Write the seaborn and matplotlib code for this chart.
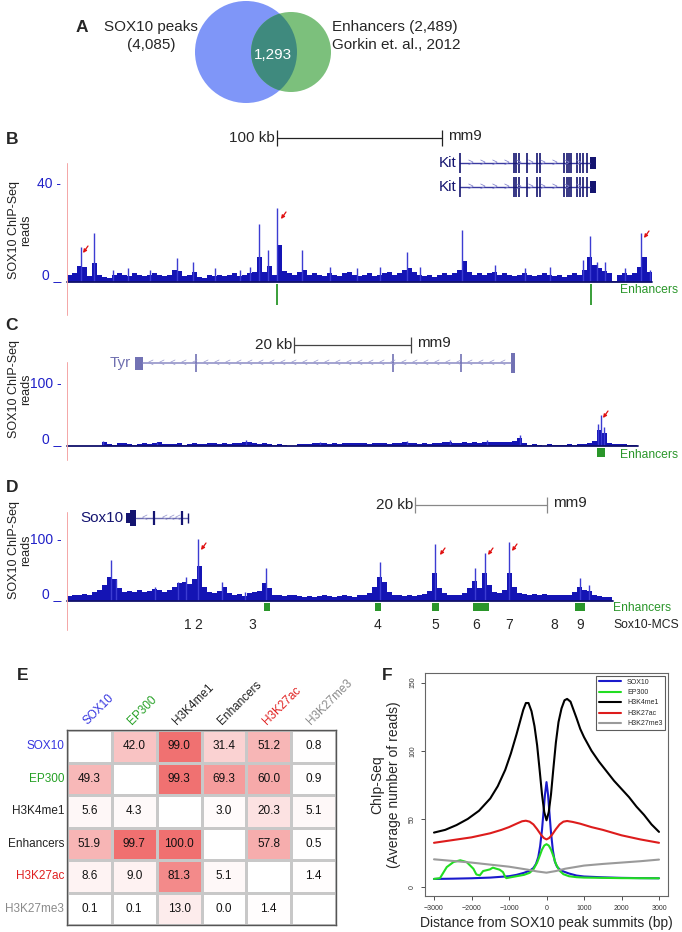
import numpy as np
import pandas as pd
import matplotlib
matplotlib.use('Agg')
import matplotlib.pyplot as plt
import seaborn as sns
from matplotlib.patches import Circle, Rectangle
from matplotlib.colors import LinearSegmentedColormap

# ---------------- data ----------------
# A: venn counts
venn_sox10 = 4085
venn_enh = 2489
venn_both = 1293

# B: Kit locus, SOX10 coverage (reads), 5px bins from track start
b_body = [3, 3.5, 6.5, 6, 2.5, 7.5, 3, 2, 1.5, 3, 3.5, 3, 2.5, 3.5, 3, 2.5, 3, 3.5, 3, 2.5,
          3, 5, 4.5, 2.5, 3, 4, 2, 1.5, 3, 2.5, 3, 2.5, 3, 3.5, 2.5, 3, 3.5, 4, 10, 4,
          6.5, 3, 15, 4.5, 3.5, 3, 4, 5, 3, 3.5, 3, 2.5, 3.5, 3, 2.5, 3.5, 4, 3, 2.5, 3,
          3.5, 2.5, 3, 3.5, 4, 3, 3.5, 5, 5.5, 4, 3, 2.5, 3, 2, 3, 3.5, 3, 3.5, 5, 8.5,
          4, 3, 3.5, 3, 3.5, 4, 3, 3.5, 3, 2.5, 3, 3.5, 3, 2.5, 3, 3.5, 3, 2.5, 3, 2,
          3, 3.5, 3, 5, 10, 7, 5.5, 4.5, 3.5, 0.5, 3, 3.5, 3, 3.5, 6, 10, 4]
b_spike_x = [81, 94, 113, 128, 150, 177, 193, 215, 240, 250, 259, 268, 277, 302, 330, 357,
             380, 407, 420, 462, 495, 525, 550, 583, 590, 597, 605, 625, 641, 650]
b_spike_h = [14, 20, 5, 5.5, 5, 9.5, 8, 5.5, 5, 6, 23.5, 13, 30, 13, 6, 5.5,
             6, 12, 6, 21, 7, 5.5, 6, 9, 18.5, 8, 8, 5.5, 20, 5]
b_enhancers = [277, 591]
b_arrows = [(83, 253), (281, 219), (644, 238)]
kit_exons = [514, 516, 519, 527, 537, 540, 564, 567, 569, 571, 577, 580, 583, 587]

# C: Tyr locus
c_body = [0, 0, 0, 0, 0, 0, 0.5, 7, 3, 2, 4.5, 5.5, 3, 2, 3.5, 4, 3, 4, 6, 3,
          2.5, 3.5, 4, 2, 3, 4, 3.5, 2.5, 4, 5, 3, 4, 3.5, 4.5, 5, 7, 6, 4, 3.5, 5,
          3, 2, 3, 1, 0.5, 0.5, 2.5, 3, 3.5, 4, 5.5, 4, 3, 4, 3.5, 4, 5, 4.5, 5.5, 4,
          3.5, 4.5, 5, 4, 3.5, 4, 5, 6, 5.5, 4, 3, 4, 3.5, 4.5, 5, 6, 6.5, 5, 4.5, 6,
          5.5, 6, 5, 6.5, 7, 6, 7, 6.5, 7, 8, 12, 5, 2, 3, 1.5, 0.5, 2.5, 1, 2, 1.5,
          3, 2, 3.5, 3, 4, 8, 26, 20, 4, 3, 2.5, 3, 2, 1.5]
c_spike_x = [103, 157, 246, 320, 407, 450, 487, 520, 598, 601, 604]
c_spike_h = [8, 7, 9, 7, 8, 9, 9, 18, 35, 50, 30]
c_enhancers = [(597, 605)]
c_arrows = [(603, 418)]
tyr_exons = [196, 393, 461]

# D: Sox10 locus
d_body = [8, 10, 9, 11, 10, 14, 18, 25, 38, 35, 20, 14, 16, 15, 17, 14, 16, 19, 18, 15,
          17, 22, 28, 30, 27, 35, 55, 22, 14, 12, 16, 22, 12, 9, 11, 8, 12, 14, 16, 28,
          20, 10, 9, 8, 10, 9, 8, 7, 8, 7, 8, 9, 8, 7, 8, 9, 8, 7, 9, 10,
          13, 22, 38, 30, 14, 10, 9, 8, 9, 8, 9, 11, 16, 45, 20, 12, 10, 9, 10, 12,
          20, 32, 20, 45, 25, 14, 13, 18, 45, 22, 12, 11, 10, 11, 10, 11, 10, 9, 10, 9,
          10, 14, 22, 18, 16, 10, 8, 7, 6]
d_spike_x = [111, 116, 155, 178, 186, 198, 222, 245, 266, 380, 435, 475, 485, 509, 580, 589]
d_spike_h = [65, 35, 22, 30, 38, 98, 30, 15, 52, 62, 90, 52, 76, 93, 36, 25]
d_enhancers = [(264, 270), (375, 381), (432, 439), (473, 489), (575, 585)]
d_arrows = [(201, 550), (440, 555), (488, 555), (512, 551)]
mcs_labels = ['1', '2', '3', '4', '5', '6', '7', '8', '9']
mcs_pos = [188, 198, 252, 378, 435, 476, 509, 554, 580]
sox10_exons = [154, 182]

# E: overlap percentages
marks = ['SOX10', 'EP300', 'H3K4me1', 'Enhancers', 'H3K27ac', 'H3K27me3']
mark_colors = ['#3535e0', '#25a025', '#222222', '#222222', '#e02020', '#8a8a8a']
overlap = [[np.nan, 42.0, 99.0, 31.4, 51.2, 0.8],
           [49.3, np.nan, 99.3, 69.3, 60.0, 0.9],
           [5.6, 4.3, np.nan, 3.0, 20.3, 5.1],
           [51.9, 99.7, 100.0, np.nan, 57.8, 0.5],
           [8.6, 9.0, 81.3, 5.1, np.nan, 1.4],
           [0.1, 0.1, 13.0, 0.0, 1.4, np.nan]]

# F: average profiles around SOX10 summits
sox10_x = [-3000, -2500, -2000, -1500, -1000, -800, -600, -450, -350, -280, -220, -170, -120, -80, -40, 0,
           40, 80, 120, 170, 220, 280, 350, 450, 600, 800, 1000, 1500, 2000, 2500, 3000]
sox10_y = [6, 6.2, 6.5, 7, 8, 9, 10.5, 12, 14, 17, 22, 30, 42, 55, 68, 77,
           68, 54, 40, 27, 19, 15, 13, 11.5, 10, 8.5, 7.8, 7.2, 6.8, 6.6, 6.5]
ep300_x = [-3000, -2840, -2660, -2480, -2300, -2130, -1950, -1870, -1780, -1690, -1510, -1430, -1340,
           -1250, -1160, -1100, -1070, -900, -600, -450, -350, -250, -180, -120, -60, 0,
           60, 120, 180, 250, 350, 450, 600, 800, 1000, 2000, 3000]
ep300_y = [6, 6.6, 14.7, 18.4, 19.7, 18.4, 13.5, 9.3, 8.6, 11.8, 13, 14.3, 13.5,
           12.8, 11, 7.4, 6.6, 7.5, 9, 10.5, 13, 18, 23, 27.5, 30.5, 31.5,
           30.5, 27.5, 23, 17, 12, 9.5, 8, 7.3, 7, 6.6, 6.5]
h3k4_x = [-3000, -2700, -2400, -2100, -1800, -1500, -1300, -1100, -950, -800, -700, -620, -550, -480,
          -400, -320, -250, -180, -120, -60, 0, 60, 120, 180, 250, 320, 400, 480, 550, 640,
          720, 800, 900, 1000, 1200, 1400, 1600, 1800, 2000, 2200, 2400, 2600, 2800, 3000]
h3k4_y = [40, 42, 45.5, 50, 56, 65, 74, 86, 98, 112, 122, 130, 135, 135,
          129, 118, 104, 85, 68, 55, 49, 55, 68, 86, 106, 121, 131, 137, 138, 136,
          130, 124, 116, 110, 100, 92, 85, 78, 72, 66, 59, 53, 46, 40.5]
h3k27ac_x = [-3000, -2500, -2000, -1500, -1200, -1000, -800, -650, -550, -450, -350, -250, -150, -70, 0,
             70, 150, 250, 350, 450, 550, 700, 900, 1200, 1500, 2000, 2500, 3000]
h3k27ac_y = [32.5, 34.5, 36.5, 39.5, 42, 44, 46.5, 48.3, 48.7, 48, 46, 42.5, 38.5, 36, 35,
             36, 38.5, 42.5, 46, 48, 48.5, 47.8, 46.5, 44, 42, 38, 35, 32.5]
h3k27me3_x = [-3000, -2000, -1000, -500, -250, 0, 250, 500, 1000, 1500, 2000, 2500, 3000]
h3k27me3_y = [20.4, 18, 15, 12.8, 11.5, 10.6, 11.8, 13.5, 15.8, 17, 18, 19, 20.2]

# ---------------- figure ----------------
sns.set_style('white')
plt.rcParams['font.family'] = ['Liberation Sans', 'DejaVu Sans']

W, H = 682, 932
fig = plt.figure(figsize=(W / 100, H / 100), dpi=100)


def px_axes(x0, y0, x1, y1):
    return fig.add_axes([x0 / W, 1 - y1 / H, (x1 - x0) / W, (y1 - y0) / H])


TRACK_BLUE = '#1414b4'
SPIKE_BLUE = '#3c3cd2'
NAVY = '#141470'
GREEN = '#2a962a'
BIN = 5


def draw_track(x0, x1, y_base, y_top, px_per_read, body, sx, sh, top_tick):
    ax = px_axes(x0, y_top, x1, y_base)
    ax.patch.set_alpha(0)
    pos = np.arange(len(body)) * BIN
    ax.bar(pos, body, width=BIN, align='edge', color=TRACK_BLUE, linewidth=0)
    ax.vlines(np.array(sx) - x0, 0, sh, color=SPIKE_BLUE, lw=1)
    ax.axhline(0, color='#10106a', lw=1.3, clip_on=False)
    ax.set_xlim(0, x1 - x0)
    ax.set_ylim(0, (y_base - y_top) / px_per_read)
    sns.despine(ax=ax, left=True, bottom=True)
    ax.set_xticks([])
    ax.set_yticks([0, top_tick])
    ax.set_yticklabels(['0 _', f'{top_tick} -'])
    ax.tick_params(axis='y', length=0, pad=4, labelcolor='#2020c8', labelsize=10)
    ax.get_yticklabels()[0].set_va('bottom')
    return ax


draw_track(67, 652, 282, 150, 99 / 40, b_body, b_spike_x, b_spike_h, 40)
draw_track(67, 638, 446, 370, 0.63, c_body, c_spike_x, c_spike_h, 100)
draw_track(67, 613, 601, 530, 0.63, d_body, d_spike_x, d_spike_h, 100)

# E: heatmap
axE = px_axes(67, 730, 336, 925)
df = pd.DataFrame(overlap, index=marks, columns=marks)
cmap = LinearSegmentedColormap.from_list('wr', ['#ffffff', '#f07070'])
sns.heatmap(df, ax=axE, cmap=cmap, vmin=0, vmax=100, annot=True, fmt='.1f',
            annot_kws={'color': '#111111', 'fontsize': 8.5},
            linewidths=0.8, linecolor='#c8c8c8', cbar=False)
axE.xaxis.tick_top()
axE.set_xticklabels(marks, rotation=45, ha='left', rotation_mode='anchor', fontsize=8.5)
axE.set_yticklabels(marks, rotation=0, fontsize=8.5)
for lbl, c in zip(axE.get_xticklabels(), mark_colors):
    lbl.set_color(c)
for lbl, c in zip(axE.get_yticklabels(), mark_colors):
    lbl.set_color(c)
axE.tick_params(length=0, pad=2)
axE.set_xlabel('')
axE.set_ylabel('')
for sp in axE.spines.values():
    sp.set_visible(True)
    sp.set_color('#555555')
    sp.set_linewidth(1)

# F: profiles
rows = []
for name, xs, ys in [('SOX10', sox10_x, sox10_y), ('EP300', ep300_x, ep300_y),
                     ('H3K4me1', h3k4_x, h3k4_y), ('H3K27ac', h3k27ac_x, h3k27ac_y),
                     ('H3K27me3', h3k27me3_x, h3k27me3_y)]:
    for xv, yv in zip(xs, ys):
        rows.append((name, xv, yv))
prof = pd.DataFrame(rows, columns=['mark', 'pos', 'reads'])
pal = {'SOX10': '#1a1acc', 'EP300': '#22dd22', 'H3K4me1': '#000000',
       'H3K27ac': '#dd1c1c', 'H3K27me3': '#9a9a9a'}
axF = px_axes(425, 673, 668, 896)
sns.lineplot(data=prof, x='pos', y='reads', hue='mark', palette=pal, estimator=None,
             lw=1.5, ax=axF)
axF.set_xlim(-3240, 3240)
axF.set_ylim(-6.5, 157)
axF.set_xticks([-3000, -2000, -1000, 0, 1000, 2000, 3000])
axF.set_yticks([0, 50, 100, 150])
axF.set_yticklabels(['0', '50', '100', '150'], rotation=90, va='center')
axF.tick_params(bottom=True, left=True, direction='out', length=3, width=0.6,
                labelsize=5, colors='#333333')
for sp in axF.spines.values():
    sp.set_color('#666666')
    sp.set_linewidth(0.8)
axF.set_xlabel('Distance from SOX10 peak summits (bp)', fontsize=10, labelpad=3)
axF.set_ylabel('ChIp-Seq\n(Average number of reads)', fontsize=10, labelpad=6)
leg = axF.legend(loc='upper right', fontsize=5, frameon=True, fancybox=False,
                 edgecolor='#333333', handlelength=3.2, borderaxespad=0.4, title=None)
leg.get_frame().set_linewidth(0.8)

# ---------------- overlay: labels, venn, genes ----------------
ov = fig.add_axes([0, 0, 1, 1])
ov.set_xlim(0, W)
ov.set_ylim(H, 0)
ov.axis('off')
ov.patch.set_alpha(0)

for lab, x, y in [('A', 82, 28), ('B', 12, 139), ('C', 12, 325), ('D', 12, 488),
                  ('E', 23, 675), ('F', 387, 675)]:
    ov.text(x, y, lab, fontsize=12.5, fontweight='bold', ha='center', va='center')

# venn
blue_c = Circle((246, 52), 51, color='#7f96f8', lw=0)
ov.add_patch(blue_c)
ov.add_patch(Circle((291, 52), 40, color='#7cc07c', lw=0))
overlap_c = Circle((291, 52), 40, color='#3f8a7e', lw=0)
ov.add_patch(overlap_c)
overlap_c.set_clip_path(blue_c)
ov.text(151, 27, 'SOX10 peaks', fontsize=11, ha='center', va='center')
ov.text(151, 45, f'({venn_sox10:,})', fontsize=11, ha='center', va='center')
ov.text(332, 27, f'Enhancers ({venn_enh:,})', fontsize=11, ha='left', va='center')
ov.text(332, 45, 'Gorkin et. al., 2012', fontsize=11, ha='left', va='center')
ov.text(273, 55, f'{venn_both:,}', fontsize=11, ha='center', va='center', color='white')

# scale bars
for x0, x1, y, txt, col in [(277, 442, 138, '100 kb', '#222222'), (294, 411, 345, '20 kb', '#444444'),
                            (415, 547, 505, '20 kb', '#888888')]:
    ov.plot([x0, x1], [y, y], color=col, lw=0.9)
    ov.vlines([x0, x1], y - 8, y + 8, color=col, lw=0.9)
    ov.text(x0 - 2, y, txt, fontsize=11, ha='right', va='center')
    ov.text(x1 + 6, y - 2, 'mm9', fontsize=11, ha='left', va='center')

# Kit gene (two transcripts)
for y in [163, 187]:
    ov.plot([460, 590], [y, y], color='#3a3aa0', lw=1)
    for cx in np.arange(470, 585, 12):
        ov.text(cx, y, '>', fontsize=7, color='#8080cc', ha='center', va='center')
    ov.vlines([460] + kit_exons, y - 10, y + 10, color=NAVY, lw=1.2)
    ov.add_patch(Rectangle((590, y - 6), 6, 12, color=NAVY, lw=0))
    ov.text(456, y, 'Kit', fontsize=11, color=NAVY, ha='right', va='center')

# Tyr gene
ov.plot([143, 511], [363, 363], color='#8a8ac4', lw=1.1)
for cx in np.arange(150, 508, 11):
    ov.text(cx, 363, '<', fontsize=7, color='#9c9cd0', ha='center', va='center')
ov.add_patch(Rectangle((135, 356.5), 8, 13, color='#7272b4', lw=0))
ov.vlines(tyr_exons, 354, 372, color='#7272b4', lw=1.2)
ov.add_patch(Rectangle((511, 353), 4, 20, color='#7272b4', lw=0))
ov.text(131, 363, 'Tyr', fontsize=11, color='#7070b0', ha='right', va='center')

# Sox10 gene
ov.plot([136, 188], [518, 518], color='#6a6ab0', lw=1)
for cx in [144, 164, 171, 177]:
    ov.text(cx, 518, '<', fontsize=7, color='#9a9ad0', ha='center', va='center')
ov.add_patch(Rectangle((126, 513), 4, 10, color=NAVY, lw=0))
ov.add_patch(Rectangle((130, 510), 6, 16, color=NAVY, lw=0))
ov.vlines(sox10_exons, 511, 525, color=NAVY, lw=1.6)
ov.vlines([188], 513, 523, color=NAVY, lw=1)
ov.text(123, 518, 'Sox10', fontsize=11, color=NAVY, ha='right', va='center')

# pink left rulers
for y0, y1 in [(163, 315), (362, 460), (512, 630)]:
    ov.plot([67, 67], [y0, y1], color='#f4a6a6', lw=0.7)

# track y labels
for yc in [230, 389, 550]:
    ov.text(20, yc, 'SOX10 ChIP-Seq\nreads', rotation=90, fontsize=9, ha='center',
            va='center', multialignment='center', color='#222222', linespacing=1.0)

# enhancer marks
ov.vlines(b_enhancers, 284, 305, color=GREEN, lw=1.3)
for x0, x1 in c_enhancers:
    ov.add_patch(Rectangle((x0, 448), x1 - x0, 9, color=GREEN, lw=0))
for x0, x1 in d_enhancers:
    ov.add_patch(Rectangle((x0, 603), x1 - x0, 8, color=GREEN, lw=0))
ov.text(620, 290, 'Enhancers', fontsize=8.7, color=GREEN, ha='left', va='center')
ov.text(620, 455, 'Enhancers', fontsize=8.7, color=GREEN, ha='left', va='center')
ov.text(613, 608, 'Enhancers', fontsize=8.7, color=GREEN, ha='left', va='center')
ov.text(613, 625, 'Sox10-MCS', fontsize=8.7, color='#222222', ha='left', va='center')
for lab, x in zip(mcs_labels, mcs_pos):
    ov.text(x, 625, lab, fontsize=10, ha='center', va='center')

# red arrows
for hx, hy in b_arrows + c_arrows + d_arrows:
    ov.annotate('', xy=(hx, hy), xytext=(hx + 5, hy - 7),
                arrowprops=dict(arrowstyle='-|>', color='#e01010', lw=0.9, mutation_scale=5,
                                shrinkA=0, shrinkB=0))

fig.savefig('out.png', dpi=100)
